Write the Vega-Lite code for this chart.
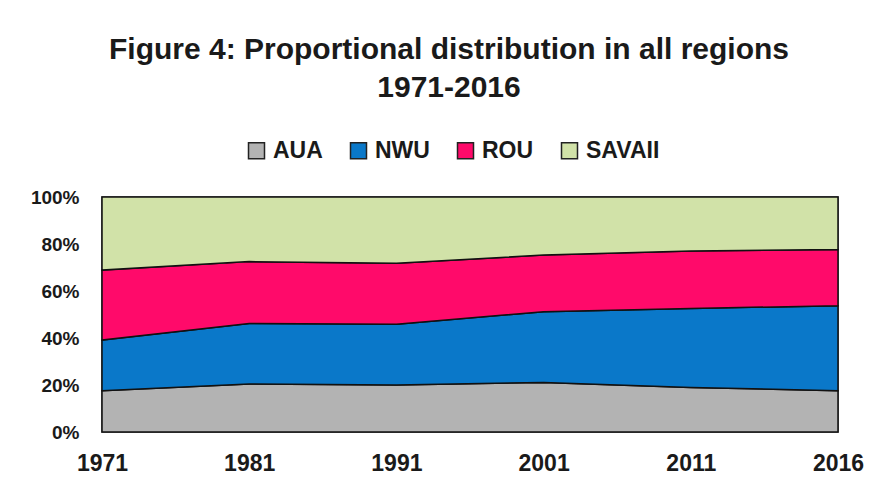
{
  "$schema": "https://vega.github.io/schema/vega-lite/v6.json",
  "width": 736,
  "height": 235,
  "autosize": {"type": "none"},
  "padding": {"left": 102, "top": 197, "right": 44, "bottom": 55},
  "background": "white",
  "title": {
    "text": ["Figure 4: Proportional distribution in all regions", "1971-2016"],
    "font": "Liberation Sans",
    "fontSize": 30,
    "fontWeight": "bold",
    "color": "#1a1a1a",
    "anchor": "middle",
    "frame": "group",
    "dx": -21,
    "offset": 36,
    "lineHeight": 38
  },
  "data": {
    "values": [
      {"year": "1971", "region": "AUA", "share": 17.6},
      {"year": "1971", "region": "NWU", "share": 21.5},
      {"year": "1971", "region": "ROU", "share": 29.8},
      {"year": "1971", "region": "SAVAII", "share": 31.1},
      {"year": "1981", "region": "AUA", "share": 20.4},
      {"year": "1981", "region": "NWU", "share": 25.8},
      {"year": "1981", "region": "ROU", "share": 26.3},
      {"year": "1981", "region": "SAVAII", "share": 27.5},
      {"year": "1991", "region": "AUA", "share": 20.0},
      {"year": "1991", "region": "NWU", "share": 25.8},
      {"year": "1991", "region": "ROU", "share": 26.0},
      {"year": "1991", "region": "SAVAII", "share": 28.2},
      {"year": "2001", "region": "AUA", "share": 21.1},
      {"year": "2001", "region": "NWU", "share": 30.1},
      {"year": "2001", "region": "ROU", "share": 24.1},
      {"year": "2001", "region": "SAVAII", "share": 24.7},
      {"year": "2011", "region": "AUA", "share": 18.9},
      {"year": "2011", "region": "NWU", "share": 33.7},
      {"year": "2011", "region": "ROU", "share": 24.4},
      {"year": "2011", "region": "SAVAII", "share": 23.0},
      {"year": "2016", "region": "AUA", "share": 17.6},
      {"year": "2016", "region": "NWU", "share": 36.1},
      {"year": "2016", "region": "ROU", "share": 24.0},
      {"year": "2016", "region": "SAVAII", "share": 22.3}
    ]
  },
  "mark": {"type": "area", "stroke": "#111111", "strokeWidth": 1.5, "opacity": 1},
  "encoding": {
    "x": {
      "field": "year",
      "type": "ordinal",
      "scale": {"type": "point", "padding": 0},
      "axis": {
        "title": null,
        "labelAngle": 0,
        "labelFont": "Liberation Sans",
        "labelFontSize": 23,
        "labelFontWeight": "bold",
        "labelColor": "#1a1a1a",
        "labelPadding": 20,
        "ticks": false,
        "domain": false,
        "grid": false
      }
    },
    "y": {
      "field": "share",
      "type": "quantitative",
      "stack": "normalize",
      "scale": {"domain": [0, 1], "nice": false},
      "axis": {
        "title": null,
        "values": [0, 0.2, 0.4, 0.6, 0.8, 1],
        "format": ".0%",
        "labelFont": "Liberation Sans",
        "labelFontSize": 19,
        "labelFontWeight": "bold",
        "labelColor": "#1a1a1a",
        "labelPadding": 23,
        "ticks": false,
        "domain": false,
        "grid": false
      }
    },
    "color": {
      "field": "region",
      "type": "nominal",
      "scale": {
        "domain": ["AUA", "NWU", "ROU", "SAVAII"],
        "range": ["#b3b3b3", "#0a78c9", "#ff0a6a", "#d1e2a8"]
      },
      "legend": {
        "title": null,
        "orient": "none",
        "direction": "horizontal",
        "legendX": 143,
        "legendY": -58,
        "symbolType": "square",
        "symbolSize": 256,
        "symbolStrokeColor": "#222222",
        "symbolStrokeWidth": 1.5,
        "labelFont": "Liberation Sans",
        "labelFontSize": 23,
        "labelFontWeight": "bold",
        "labelColor": "#1a1a1a",
        "labelOffset": 5,
        "columnPadding": 24
      }
    },
    "order": {"field": "region", "sort": "ascending"}
  },
  "config": {
    "view": {"stroke": "#404040", "strokeWidth": 1.5}
  }
}
